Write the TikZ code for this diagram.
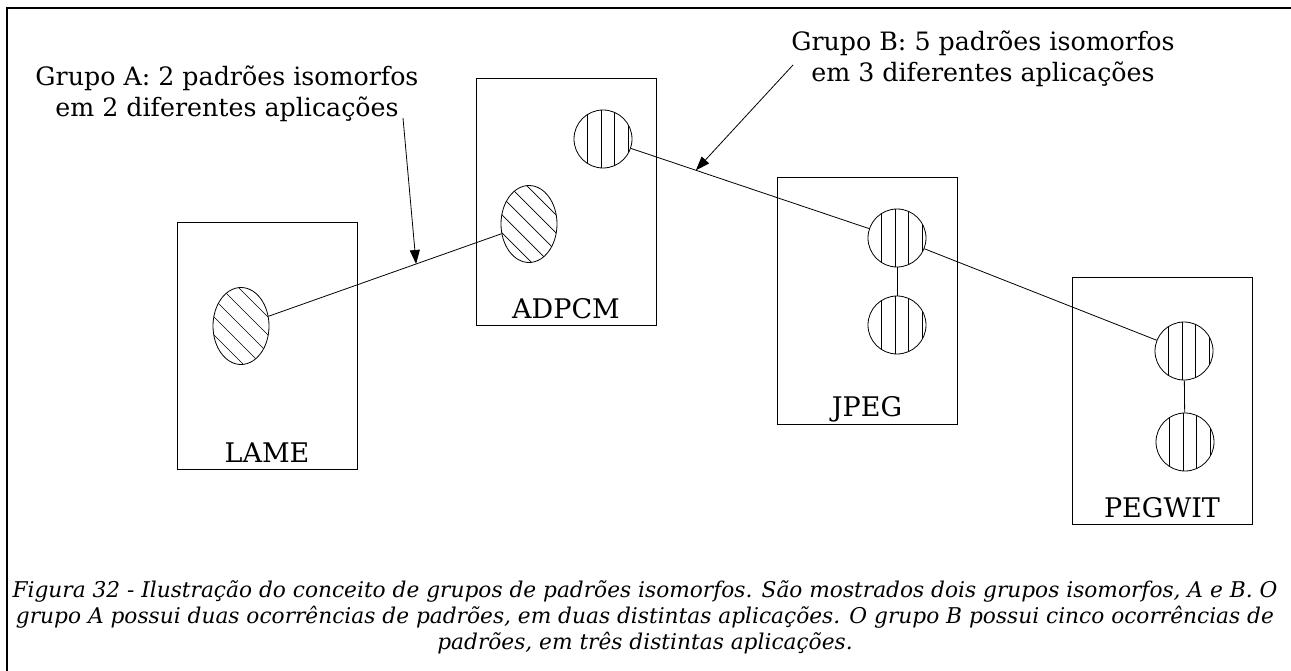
\documentclass[tikz,border=0pt]{standalone}
\usepackage{fontspec}
\setmainfont{DejaVu Serif}
\usetikzlibrary{shapes.geometric,arrows.meta,calc}

\begin{document}
\begin{tikzpicture}[x=1pt,y=-1pt,
  appbox/.style={draw, line width=0.9pt, minimum width=180pt, minimum height=247pt, inner sep=0pt},
  applabel/.style={anchor=base, inner sep=0pt, font=\fontsize{27}{32}\selectfont},
  note/.style={anchor=base, inner sep=0pt, font=\fontsize{25.3}{30}\selectfont},
  captionline/.style={anchor=base, inner sep=0pt, font=\fontsize{21.7}{26}\selectfont\itshape},
  dhatch/.style={ellipse, draw, line width=0.8pt, minimum width=56pt, minimum height=77pt, inner sep=0pt,
    path picture={\foreach \d in {-36,-18,0,18,36}
      {\draw[line width=0.7pt] ([shift={(\d-50,-50)}]path picture bounding box.center) -- ++(100,100);}}},
  vhatch/.style={circle, draw, line width=0.8pt, minimum size=58pt, inner sep=0pt,
    path picture={\foreach \d in {-15.5,-2,11.5,25}
      {\draw[line width=0.7pt] ([shift={(\d,-40)}]path picture bounding box.center) -- ++(0,80);}}},
  link/.style={line width=0.8pt},
  pointer/.style={line width=0.8pt, -{Triangle[length=14pt,width=10pt]}}
]
\useasboundingbox (0,0) rectangle (1291,671);

% outer frame (top and left edges)
\draw[line width=2pt] (7,671) -- (7,8) -- (1291,8);

% application boxes
\node[appbox] (lame)   at (267,346)   {};
\node[appbox] (adpcm)  at (566,202)   {};
\node[appbox] (jpeg)   at (867,300.5) {};
\node[appbox] (pegwit) at (1162,401)  {};

\node[applabel] (lameT)   at ($(lame.south)+(0,-7.5)$)   {LAME};
\node[applabel] (adpcmT)  at ($(adpcm.south)+(0,-7.5)$)  {ADPCM};
\node[applabel] (jpegT)   at ($(jpeg.south)+(0,-7.5)$)   {JPEG};
\node[applabel] (pegwitT) at ($(pegwit.south)+(0,-7.5)$) {PEGWIT};

% group A patterns
\node[dhatch] (le) at (241,326) {};
\node[dhatch] (ae) at (529,224) {};

% group B patterns
\node[vhatch] (ac)  at (603,139)  {};
\node[vhatch] (jc1) at (897,238)  {};
\node[vhatch] (jc2) at (897,325)  {};
\node[vhatch] (pc1) at (1184,351) {};
\node[vhatch] (pc2) at (1185,442) {};

% links between isomorphic patterns
\draw[link] (le) -- (ae);
\draw[link] (ac) -- (jc1);
\draw[link] (jc1) -- (jc2);
\draw[link] (jc1) -- (pc1);
\draw[link] (pc1) -- (pc2);

% group annotations
\node[note] (gA1) at (227,86)  {Grupo A: 2 padrões isomorfos};
\node[note] (gA2) at (227,117) {em 2 diferentes aplicações};
\node[note] (gB1) at (983,51)  {Grupo B: 5 padrões isomorfos};
\node[note] (gB2) at (983,82)  {em 3 diferentes aplicações};

\coordinate (startA) at (403,118);
\coordinate (tipA) at ($(le)!0.608!(ae)$);
\coordinate (startB) at (793,65);
\coordinate (tipB) at ($(ac)!0.316!(jc1)$);
\draw[pointer] (startA) -- (tipA);
\draw[pointer] (startB) -- (tipB);

% caption
\node[captionline] (cap1) at (645,597) {Figura 32 - Ilustração do conceito de grupos de padrões isomorfos. São mostrados dois grupos isomorfos, A e B. O};
\node[captionline] (cap2) at (645,623) {grupo A possui duas ocorrências de padrões, em duas distintas aplicações. O grupo B possui cinco ocorrências de};
\node[captionline] (cap3) at (645,649) {padrões, em três distintas aplicações.};
\end{tikzpicture}
\end{document}
